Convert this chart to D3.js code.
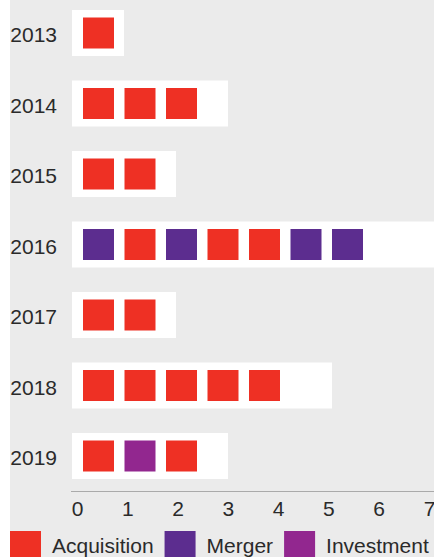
<!DOCTYPE html>
<html>
<head>
<meta charset="utf-8">
<script src="https://cdn.jsdelivr.net/npm/d3@7"></script>
<style>
  body { margin: 0; background: #fff; }
  svg { display: block; font-family: "Liberation Sans", Arial, sans-serif; }
</style>
</head>
<body>
<svg></svg>
<script>
var WIDTH = 434;
var HEIGHT = 557;

// data
var years = ['2013', '2014', '2015', '2016', '2017', '2018', '2019'];
var deals = [
    ['Acquisition'],
    ['Acquisition', 'Acquisition', 'Acquisition'],
    ['Acquisition', 'Acquisition'],
    ['Merger', 'Acquisition', 'Merger', 'Acquisition', 'Acquisition', 'Merger', 'Merger'],
    ['Acquisition', 'Acquisition'],
    ['Acquisition', 'Acquisition', 'Acquisition', 'Acquisition', 'Acquisition'],
    ['Acquisition', 'Investment', 'Acquisition']
];
var dealTypes = ['Acquisition', 'Merger', 'Investment'];
var typeColors = ['#ee3024', '#5c2d8f', '#92278f'];
var xTicks = [0, 1, 2, 3, 4, 5, 6, 7];

var svg = d3.select('svg')
    .attr('width', WIDTH)
    .attr('height', HEIGHT);

svg.append('rect')
    .attr('x', 10).attr('y', 0)
    .attr('width', WIDTH - 10).attr('height', HEIGHT)
    .attr('fill', '#ebebeb');

var xScale = d3.scaleLinear().domain([0, 7]).range([72, 436]);
var tickScale = d3.scaleLinear().domain([0, 7]).range([77, 429]);
var yScale = d3.scaleBand()
    .domain(years)
    .range([-2.25, 491.25])
    .paddingInner(0.3475)
    .paddingOuter(0.17375);
var slotScale = d3.scaleBand()
    .domain(d3.range(7))
    .range([83, 363])
    .paddingInner(0.253)
    .paddingOuter(0);
var colorScale = d3.scaleOrdinal().domain(dealTypes).range(typeColors);

var rows = svg.selectAll('g.row')
    .data(years)
    .enter()
    .append('g')
    .attr('class', 'row')
    .attr('transform', function(d){ return 'translate(0,' + yScale(d) + ')'; });

rows.append('rect')
    .attr('x', xScale(0))
    .attr('y', 0)
    .attr('width', function(d, i){ return xScale(deals[i].length) - xScale(0); })
    .attr('height', yScale.bandwidth())
    .attr('fill', '#fff');

var sq = slotScale.bandwidth();
rows.selectAll('rect.deal')
    .data(function(d, i){ return deals[i]; })
    .enter()
    .append('rect')
    .attr('class', 'deal')
    .attr('x', function(d, i){ return slotScale(i); })
    .attr('y', (yScale.bandwidth() - sq) / 2)
    .attr('width', sq)
    .attr('height', sq)
    .attr('fill', function(d){ return colorScale(d); });

rows.append('text')
    .attr('x', 57)
    .attr('y', yScale.bandwidth() / 2 + 9.5)
    .attr('text-anchor', 'end')
    .attr('font-size', 21)
    .attr('fill', '#2a2a2a')
    .text(function(d){ return d; });

// bottom axis
svg.append('line')
    .attr('x1', 71).attr('x2', WIDTH)
    .attr('y1', 491.5).attr('y2', 491.5)
    .attr('stroke', '#aaa');

var bottomAxis = d3.axisBottom(tickScale)
    .tickValues(xTicks)
    .tickSize(0)
    .tickPadding(10)
    .tickFormat(d3.format('d'));
var axisG = svg.append('g')
    .attr('transform', 'translate(0,491)')
    .call(bottomAxis);
axisG.select('.domain').remove();
axisG.selectAll('text')
    .attr('font-size', 21)
    .attr('fill', '#2a2a2a');
axisG.attr('font-family', null);

// legend
var legend = svg.append('g').attr('transform', 'translate(10,531)');
var lx = 0;
dealTypes.forEach(function(t){
    legend.append('rect')
        .attr('x', lx).attr('y', 0)
        .attr('width', 31).attr('height', 31)
        .attr('fill', colorScale(t));
    var txt = legend.append('text')
        .attr('x', lx + 42)
        .attr('y', 21.5)
        .attr('font-size', 21)
        .attr('fill', '#2a2a2a')
        .text(t);
    lx += 42 + txt.node().getComputedTextLength() + 11;
});
</script>
</body>
</html>
